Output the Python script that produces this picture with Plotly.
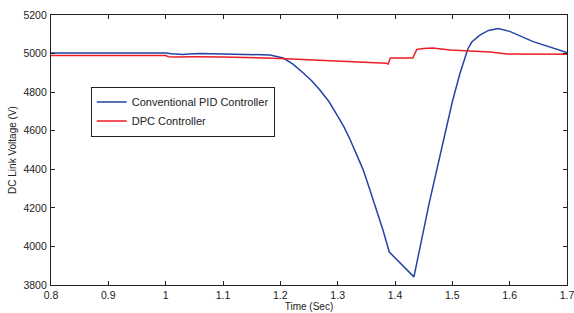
import plotly.graph_objects as go

# Conventional PID controller (blue)
pid_t = [0.80, 1.00, 1.01, 1.03, 1.04, 1.06, 1.10, 1.15, 1.182, 1.205, 1.222, 1.240, 1.255, 1.269,
         1.285, 1.299, 1.311, 1.322, 1.333, 1.344, 1.353, 1.362, 1.371, 1.379, 1.390, 1.433,
         1.460, 1.484, 1.500, 1.513, 1.520, 1.527, 1.534, 1.548, 1.563, 1.580, 1.600, 1.641, 1.700]
pid_v = [5003, 5003, 4999, 4995, 4998, 5000, 4998, 4997, 4993, 4977, 4945, 4899, 4858, 4811,
         4750, 4681, 4620, 4552, 4480, 4401, 4323, 4241, 4163, 4085, 3971, 3842,
         4230, 4552, 4750, 4894, 4965, 5024, 5060, 5096, 5120, 5130, 5115, 5062, 5005]

# DPC controller (red)
dpc_t = [0.80, 1.00, 1.005, 1.02, 1.05, 1.10, 1.20, 1.30, 1.385, 1.388, 1.392, 1.431, 1.438,
         1.450, 1.466, 1.496, 1.530, 1.566, 1.595, 1.650, 1.700]
dpc_v = [4990, 4990, 4984, 4982, 4983, 4982, 4975, 4963, 4950, 4946, 4977, 4977, 5022,
         5026, 5029, 5019, 5012, 5008, 4998, 4996, 4996]

x_ticks = [0.8, 0.9, 1.0, 1.1, 1.2, 1.3, 1.4, 1.5, 1.6, 1.7]
x_tick_labels = ["0.8", "0.9", "1", "1.1", "1.2", "1.3", "1.4", "1.5", "1.6", "1.7"]
y_ticks = [3800, 4000, 4200, 4400, 4600, 4800, 5000, 5200]

fig = go.Figure()
fig.add_trace(go.Scatter(x=pid_t, y=pid_v, mode="lines", name="Conventional PID Controller",
                         line=dict(color="#2244a4", width=1.5)))
fig.add_trace(go.Scatter(x=dpc_t, y=dpc_v, mode="lines", name="DPC Controller",
                         line=dict(color="#ee1c25", width=1.5)))

axis_common = dict(showgrid=False, zeroline=False, showline=True, linecolor="#222222",
                   linewidth=1.2, mirror="ticks", ticks="inside", ticklen=4, automargin=False,
                   ticklabeloverflow="allow",
                   tickcolor="#222222", tickfont=dict(family="Liberation Sans, Arial", size=10.5, color="#222222"))

fig.update_layout(
    width=574, height=313,
    margin=dict(l=51, r=7, t=15, b=28),
    paper_bgcolor="white", plot_bgcolor="white",
    font=dict(family="Liberation Sans, Arial", size=10, color="#222222"),
    xaxis=dict(range=[0.8, 1.7], tickvals=x_ticks, ticktext=x_tick_labels, ticklabelstandoff=0,
               title=dict(text="Time (Sec)", standoff=0, font=dict(size=10)), **axis_common),
    yaxis=dict(range=[3800, 5200], tickvals=y_ticks, ticklabelstandoff=1,
               title=dict(text="DC Link Voltage (V)", standoff=4, font=dict(size=10)), **axis_common),
    legend=dict(x=0.077, y=0.735, xanchor="left", yanchor="top",
                bordercolor="#222222", borderwidth=1, bgcolor="white",
                font=dict(size=11), tracegroupgap=0, itemwidth=30),
    showlegend=True,
)

fig.write_html("out.html", config={"displayModeBar": False},
               post_script="document.body.style.margin='0';document.body.style.overflow='hidden';")
